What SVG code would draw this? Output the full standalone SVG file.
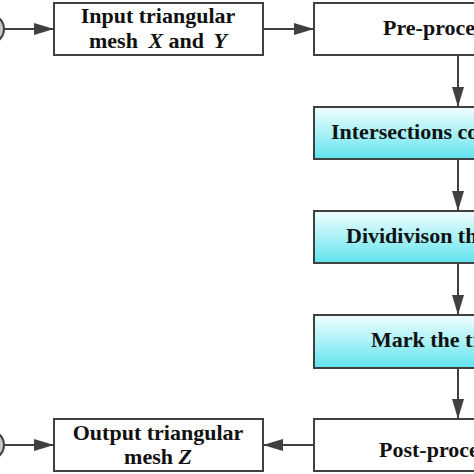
<svg xmlns="http://www.w3.org/2000/svg" width="474" height="474" viewBox="0 0 474 474">
<style>
.box{stroke:#404040;stroke-width:2;fill:#ffffff}
.cyan{fill:url(#cg)}
.t{font-family:"Liberation Serif","Times New Roman",serif;font-weight:bold;font-size:22px;fill:#111}
.it{font-style:italic}
.c{stroke:#404040;stroke-width:2;fill:none;marker-end:url(#ah)}
.term{fill:#c8c8c8;stroke:#404040;stroke-width:2}
</style>
<defs>
<linearGradient id="cg" x1="0" y1="0" x2="0" y2="1">
<stop offset="0" stop-color="#f0fdfe"/>
<stop offset="0.5" stop-color="#aaf2f7"/>
<stop offset="1" stop-color="#60e3ee"/>
</linearGradient>
<marker id="ah" viewBox="0 0 20 12" refX="20" refY="6" markerWidth="20" markerHeight="12" markerUnits="userSpaceOnUse" orient="auto">
<path d="M0,0 L20,6 L0,12 z" fill="#404040"/>
</marker>
</defs>
<rect width="474" height="474" fill="#ffffff"/>
<g id="start"><ellipse class="term" cx="-14" cy="29" rx="18" ry="16"/></g>
<g id="end"><ellipse class="term" cx="-14" cy="445" rx="18" ry="16"/></g>
<g id="input">
<rect class="box" x="54" y="3" width="209" height="52"/>
<text class="t" x="158" y="23" text-anchor="middle">Input triangular</text>
<text class="t" x="158" y="47.5" text-anchor="middle">mesh <tspan class="it" dx="5">X</tspan> and <tspan class="it" dx="4">Y</tspan></text>
</g>
<g id="pre">
<rect class="box" x="314" y="3" width="300" height="52"/>
<text class="t" x="383" y="35">Pre-proces</text>
</g>
<g id="intersections">
<rect class="box cyan" x="314" y="107" width="300" height="52"/>
<text class="t" x="331" y="139">Intersections co</text>
</g>
<g id="division">
<rect class="box cyan" x="314" y="211" width="300" height="52"/>
<text class="t" x="346" y="243">Dividivison the</text>
</g>
<g id="mark">
<rect class="box cyan" x="314" y="315" width="300" height="53"/>
<text class="t" x="371" y="347">Mark the tr</text>
</g>
<g id="post">
<rect class="box" x="314" y="419" width="300" height="52"/>
<text class="t" x="379" y="457">Post-proces</text>
</g>
<g id="output">
<rect class="box" x="54" y="419" width="209" height="52"/>
<text class="t" x="158" y="439.5" text-anchor="middle">Output triangular</text>
<text class="t" x="158" y="463.5" text-anchor="middle">mesh <tspan class="it">Z</tspan></text>
</g>
<g id="connectors">
<line class="c" x1="4" y1="29" x2="54" y2="29"/>
<line class="c" x1="263" y1="29" x2="314" y2="29"/>
<line class="c" x1="458" y1="55" x2="458" y2="107"/>
<line class="c" x1="458" y1="159" x2="458" y2="211"/>
<line class="c" x1="458" y1="263" x2="458" y2="315"/>
<line class="c" x1="458" y1="368" x2="458" y2="419"/>
<line class="c" x1="314" y1="445" x2="263" y2="445"/>
<line class="c" x1="4" y1="445" x2="54" y2="445"/>
</g>
</svg>
